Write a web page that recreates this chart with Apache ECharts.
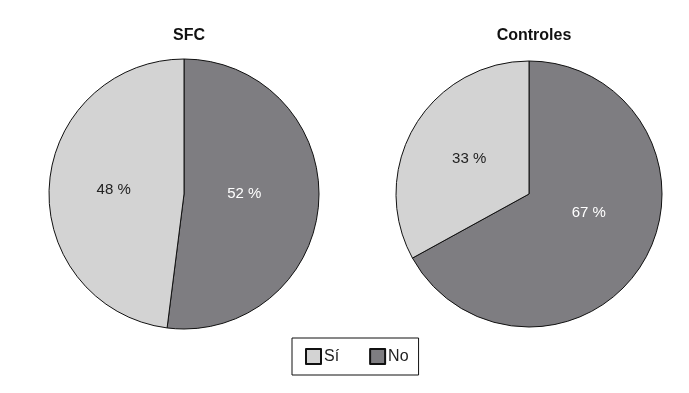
<!DOCTYPE html>
<html>
<head>
<meta charset="utf-8">
<script src="https://cdn.jsdelivr.net/npm/echarts@6/dist/echarts.min.js"></script>
<style>
  html, body { margin: 0; padding: 0; background: #fff; }
  #chart { width: 689px; height: 393px; }
</style>
</head>
<body>
<div id="chart"></div>
<script>
const categories = ['Sí', 'No']
const groups = ['SFC', 'Controles']
const sfcValues = [48, 52]
const controlValues = [33, 67]
const colors = ['#d3d3d3', '#7e7d81']

const chart = echarts.init(document.getElementById('chart'))

function makeData(values, noOffset) {
    // orden No primero para que empiece arriba en sentido horario
    return [
        { name: categories[1], value: values[1], itemStyle: { color: colors[1] },
          label: { color: '#fff', offset: noOffset } },
        { name: categories[0], value: values[0], itemStyle: { color: colors[0] },
          label: { color: '#222' } }
    ]
}

function makePie(values, cx, r, noOffset) {
    return {
        type: 'pie',
        center: [cx, 194],
        radius: [0, r],
        startAngle: 90,
        clockwise: true,
        animation: false,
        silent: true,
        itemStyle: { borderColor: '#111', borderWidth: 1 },
        label: {
            show: true,
            position: 'inside',
            formatter: '{c} %',
            fontFamily: 'Liberation Sans',
            fontSize: 15
        },
        labelLine: { show: false },
        data: makeData(values, noOffset)
    }
}

const titleStyle = { fontFamily: 'Liberation Sans', fontWeight: 'bold', fontSize: 16, color: '#111' }

const option = {
    backgroundColor: '#fff',
    title: [
        { text: groups[0], left: 184, top: 23, textAlign: 'center', textStyle: titleStyle },
        { text: groups[1], left: 529, top: 23, textAlign: 'center', textStyle: titleStyle }
    ],
    legend: {
        data: categories,
        left: 292,
        top: 338,
        orient: 'horizontal',
        icon: 'rect',
        itemWidth: 15,
        itemHeight: 15,
        itemGap: 30,
        padding: [10, 10, 10, 13],
        borderColor: '#111',
        borderWidth: 1,
        selectedMode: false,
        textStyle: { fontFamily: 'Liberation Sans', fontSize: 16, color: '#222', padding: [0, 0, 0, -2] }
    },
    series: [
        makePie(sfcValues, 184, 135, [-10, -5]),
        makePie(controlValues, 529, 133, [0, -17])
    ]
}
chart.setOption(option)
</script>
</body>
</html>
